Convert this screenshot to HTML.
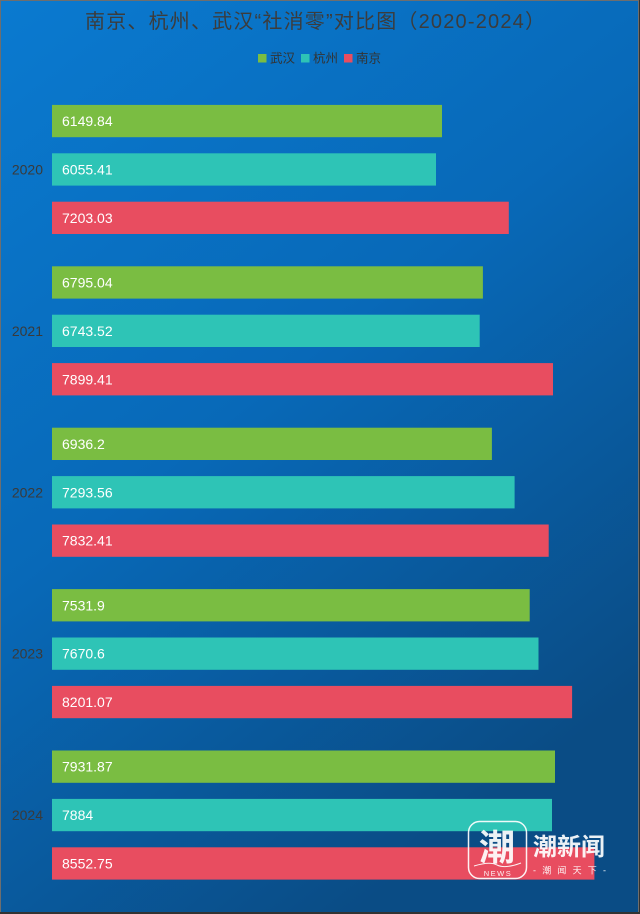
<!DOCTYPE html>
<html>
<head>
<meta charset="utf-8">
<style>
html,body{margin:0;padding:0;}
body{width:640px;height:914px;overflow:hidden;}
svg{display:block;}
text{font-family:"Liberation Sans","Noto Sans CJK SC",sans-serif;}
</style>
</head>
<body>
<svg width="640" height="914" viewBox="0 0 640 914" xmlns="http://www.w3.org/2000/svg">
<defs>
<linearGradient id="bg" x1="0" y1="0" x2="0.55" y2="1">
<stop offset="0" stop-color="#0a7ad0"/>
<stop offset="0.5" stop-color="#0869b8"/>
<stop offset="1" stop-color="#0a4c85"/>
</linearGradient>
</defs>
<rect x="0" y="0" width="640" height="914" fill="url(#bg)"/>
<rect x="0.5" y="0.5" width="638" height="912" fill="none" stroke="#6e6e6e" stroke-width="1"/>
<line x1="0" y1="913" x2="640" y2="913" stroke="#333" stroke-width="2"/>
<line x1="639.5" y1="0" x2="639.5" y2="914" stroke="#333" stroke-width="1"/>

<text x="85" y="28" font-size="20" fill="#3c3c3c" textLength="460" lengthAdjust="spacing">南京、杭州、武汉“社消零”对比图（2020-2024）</text>

<rect x="258" y="54" width="8.5" height="8.5" fill="#7abd42"/>
<text x="270" y="62.5" font-size="12.5" fill="#333">武汉</text>
<rect x="301" y="54" width="8.5" height="8.5" fill="#2ec4b6"/>
<text x="313" y="62.5" font-size="12.5" fill="#333">杭州</text>
<rect x="344" y="54" width="8.5" height="8.5" fill="#e84d60"/>
<text x="356" y="62.5" font-size="12.5" fill="#333">南京</text>

<g font-size="14" fill="#3a3a3a" text-anchor="end">
<text x="43" y="174.5">2020</text>
<text x="43" y="335.9">2021</text>
<text x="43" y="497.3">2022</text>
<text x="43" y="658.7">2023</text>
<text x="43" y="820.1">2024</text>
</g>

<g>
<rect x="52" y="104.9" width="390.0" height="32.3" fill="#7abd42"/>
<rect x="52" y="153.3" width="384.0" height="32.3" fill="#2ec4b6"/>
<rect x="52" y="201.7" width="456.8" height="32.3" fill="#e84d60"/>

<rect x="52" y="266.3" width="430.9" height="32.3" fill="#7abd42"/>
<rect x="52" y="314.7" width="427.7" height="32.3" fill="#2ec4b6"/>
<rect x="52" y="363.1" width="501.0" height="32.3" fill="#e84d60"/>

<rect x="52" y="427.7" width="439.9" height="32.3" fill="#7abd42"/>
<rect x="52" y="476.1" width="462.6" height="32.3" fill="#2ec4b6"/>
<rect x="52" y="524.5" width="496.7" height="32.3" fill="#e84d60"/>

<rect x="52" y="589.1" width="477.7" height="32.3" fill="#7abd42"/>
<rect x="52" y="637.5" width="486.5" height="32.3" fill="#2ec4b6"/>
<rect x="52" y="685.9" width="520.1" height="32.3" fill="#e84d60"/>

<rect x="52" y="750.5" width="503.0" height="32.3" fill="#7abd42"/>
<rect x="52" y="798.9" width="500.0" height="32.3" fill="#2ec4b6"/>
<rect x="52" y="847.3" width="542.4" height="32.3" fill="#e84d60"/>
</g>

<g font-size="14" fill="#ffffff">
<text x="62" y="126.1">6149.84</text>
<text x="62" y="174.5">6055.41</text>
<text x="62" y="222.9">7203.03</text>

<text x="62" y="287.5">6795.04</text>
<text x="62" y="335.9">6743.52</text>
<text x="62" y="384.3">7899.41</text>

<text x="62" y="448.9">6936.2</text>
<text x="62" y="497.3">7293.56</text>
<text x="62" y="545.7">7832.41</text>

<text x="62" y="610.3">7531.9</text>
<text x="62" y="658.7">7670.6</text>
<text x="62" y="707.1">8201.07</text>

<text x="62" y="771.7">7931.87</text>
<text x="62" y="820.1">7884</text>
<text x="62" y="868.5">8552.75</text>
</g>

<g opacity="0.92">
<rect x="468.5" y="821.5" width="58" height="57" rx="11" ry="11" fill="none" stroke="#ffffff" stroke-width="1.5"/>
<text x="497" y="860" text-anchor="middle" font-size="36" font-weight="bold" fill="#ffffff">潮</text>
<path d="M474 866 Q490 861 497 865 Q505 869 521 863" fill="none" stroke="#ffffff" stroke-width="1"/>
<text x="498" y="876" text-anchor="middle" font-size="7.5" fill="#ffffff" letter-spacing="1.5">NEWS</text>
<text x="533" y="855" font-size="24" font-weight="bold" fill="#ffffff">潮新闻</text>
<text x="533" y="873.5" font-size="9" fill="#ffffff" textLength="73" lengthAdjust="spacing">- 潮 闻 天 下 -</text>
</g>
</svg>
</body>
</html>
